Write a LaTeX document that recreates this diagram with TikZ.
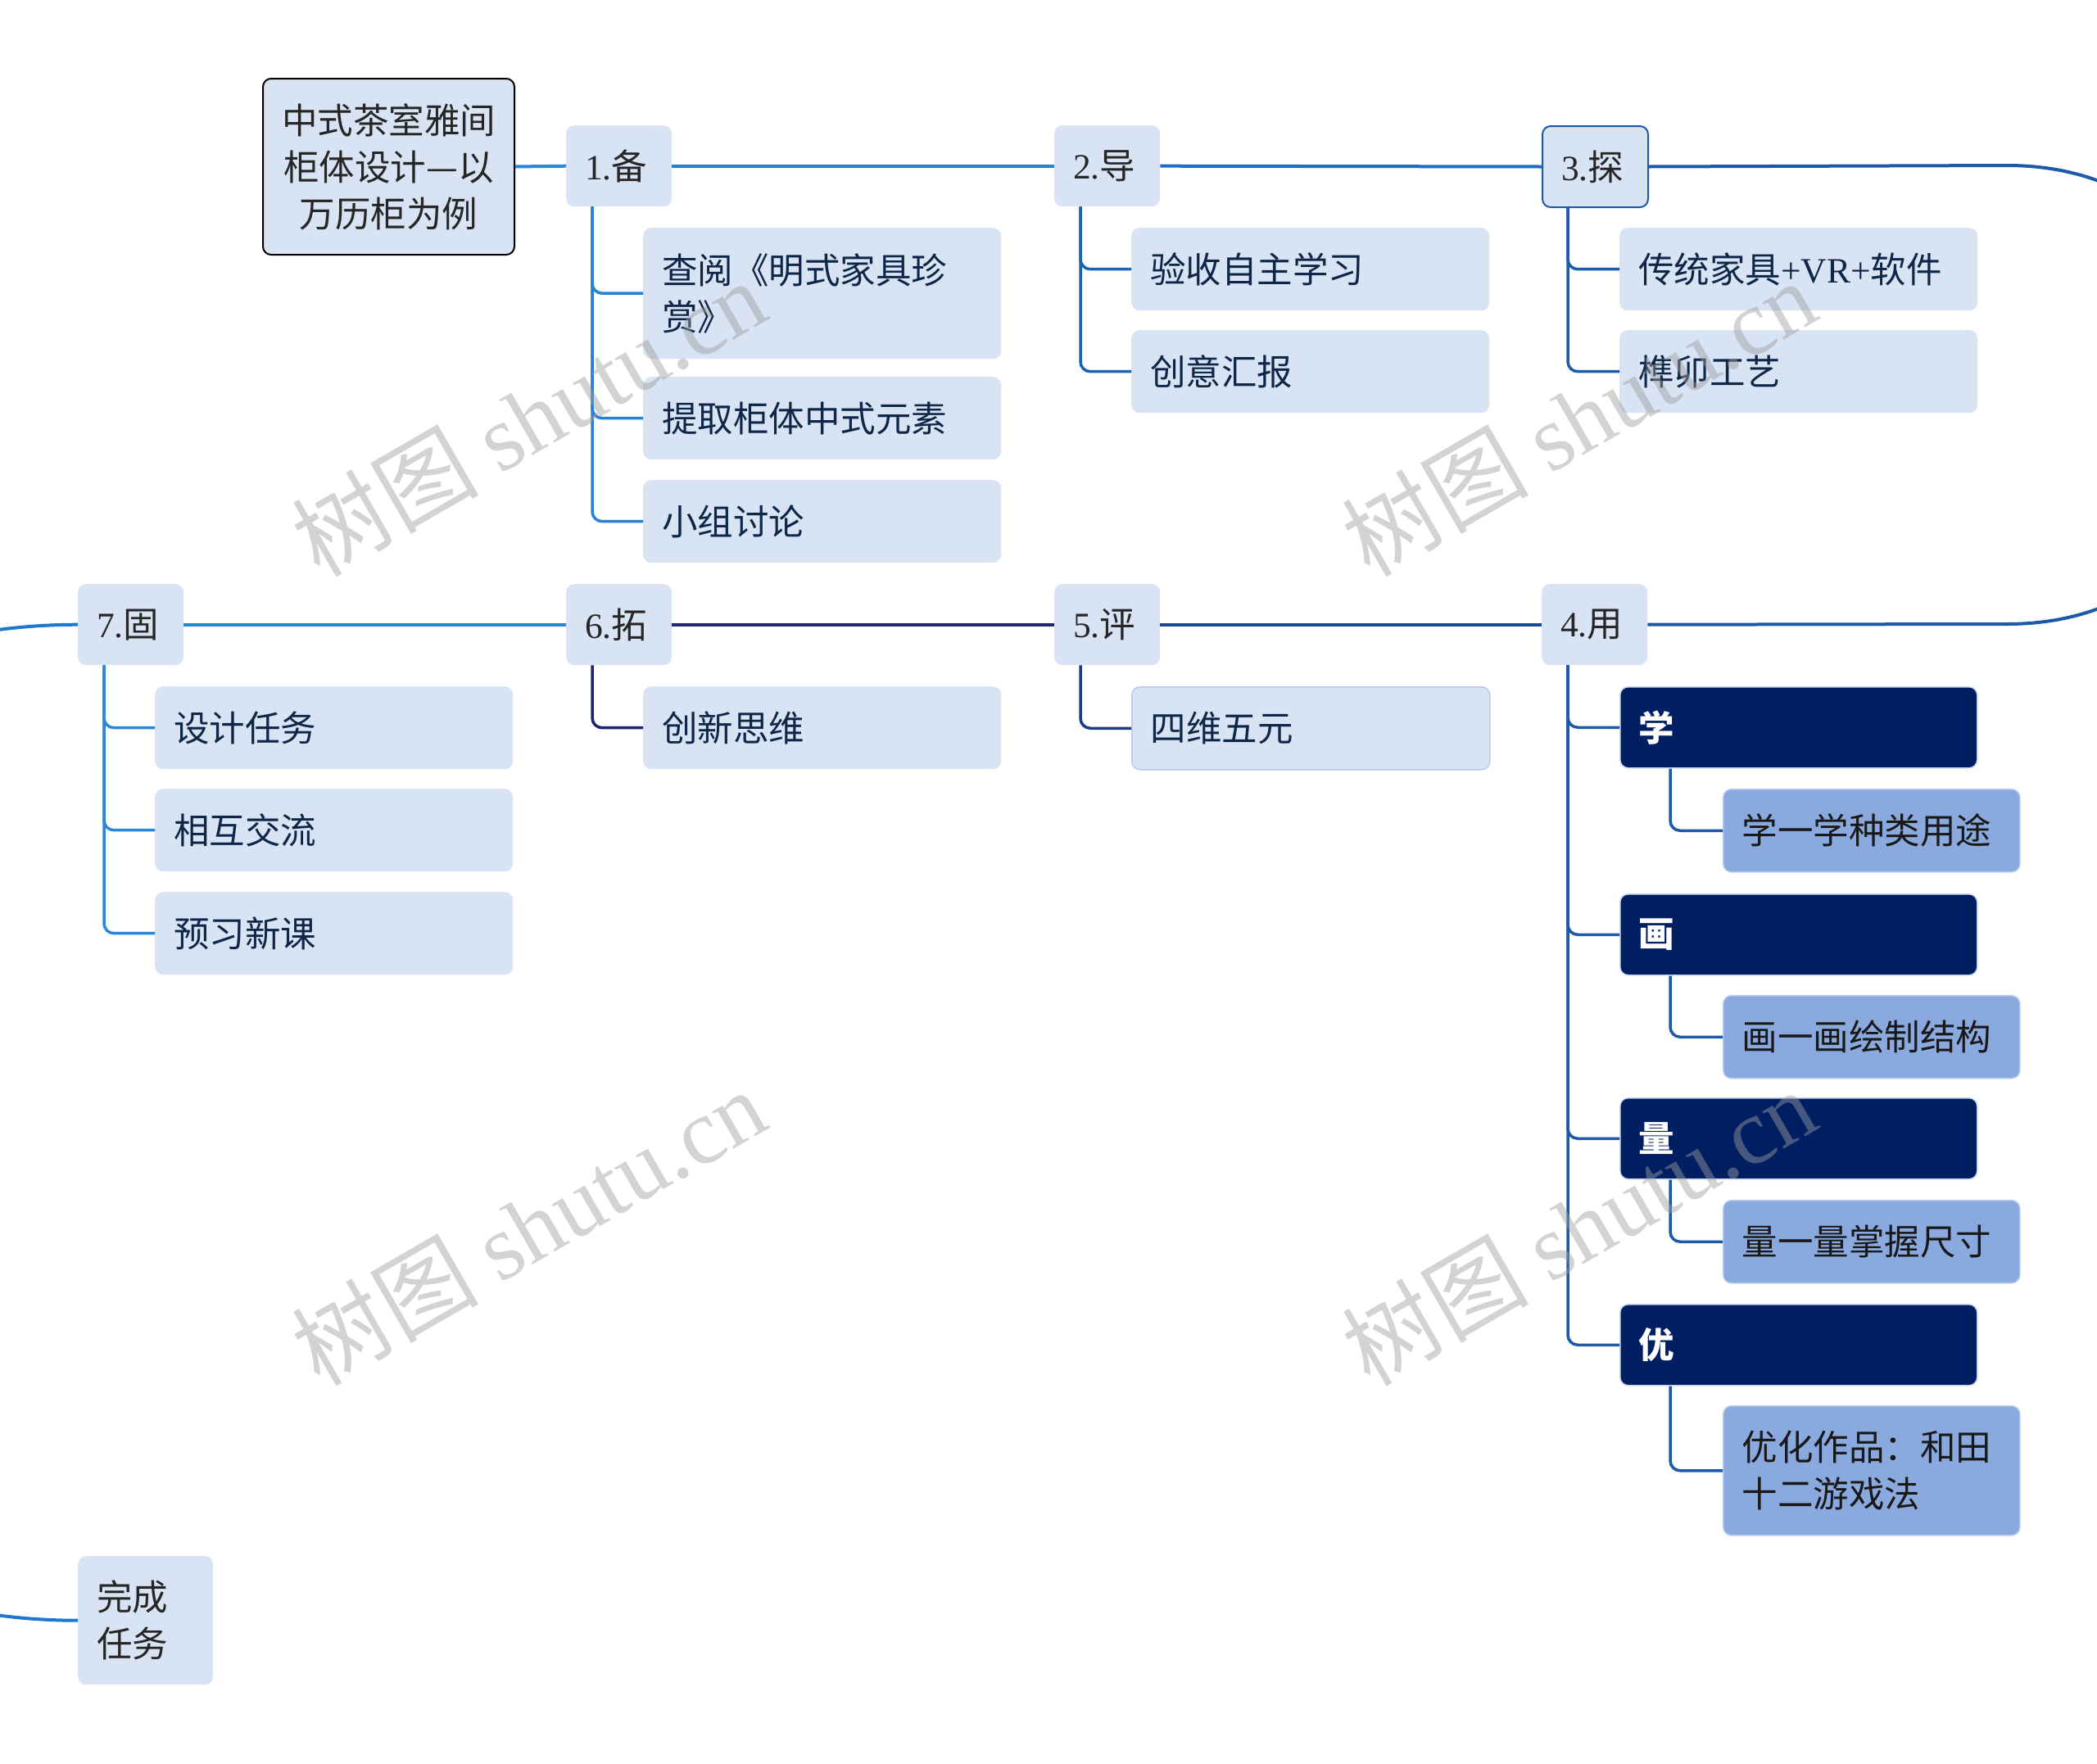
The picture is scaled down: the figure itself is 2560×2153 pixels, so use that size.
\documentclass[tikz,border=0pt]{standalone}
\usepackage{fontspec}
\setmainfont{Noto Sans CJK SC}
\newfontfamily\lat{Liberation Serif}
\usetikzlibrary{calc}

\definecolor{boxfill}{HTML}{D8E3F3}
\definecolor{stepink}{HTML}{262626}
\definecolor{leafink}{HTML}{0E2748}
\definecolor{navy}{HTML}{001E62}
\definecolor{navyedge}{HTML}{C8D7EE}
\definecolor{subfill}{HTML}{8AA9DE}
\definecolor{subedge}{HTML}{B5CAEC}
\definecolor{seledge}{HTML}{1C5AA8}
\definecolor{c1}{HTML}{2A80D2}
\definecolor{c2}{HTML}{1C62B4}
\definecolor{c3}{HTML}{1C5CAD}
\definecolor{c4}{HTML}{1C5AA8}
\definecolor{c5}{HTML}{1B3D88}
\definecolor{c6}{HTML}{1C2470}
\definecolor{c7}{HTML}{2A88DC}
\definecolor{m0}{HTML}{2F86D6}
\definecolor{m1}{HTML}{2A7FD0}
\definecolor{m2}{HTML}{1E6EC4}
\definecolor{m3}{HTML}{1C5AA8}
\definecolor{m4}{HTML}{1B4A96}
\definecolor{m5}{HTML}{1E2A6E}
\definecolor{m6}{HTML}{2B86D8}
\definecolor{m7}{HTML}{1F78CF}

\begin{document}
\begin{tikzpicture}[x=1pt,y=-1pt,
  every node/.style={font=\fontsize{43.5}{57}\selectfont, anchor=north west, rounded corners=10pt, inner ysep=0pt},
  stepbox/.style={fill=boxfill, text=stepink, minimum height=99pt, text width=83pt, inner xsep=23pt, align=left},
  leaf/.style={fill=boxfill, text=leafink, minimum height=101pt, text width=391pt, inner xsep=23pt, align=left},
  darkbox/.style={fill=navy, draw=navyedge, line width=1.5pt, text=white, font=\fontsize{43.5}{57}\selectfont\bfseries, minimum height=99pt, text width=390pt, inner xsep=23pt, align=left},
  subleaf/.style={fill=subfill, draw=subedge, line width=1.5pt, text=black!90, minimum height=101pt, text width=316pt, inner xsep=23pt, align=left},
  trunk/.style={line width=4pt},
  twig/.style={line width=3.5pt, rounded corners=12pt},
  wmark/.style={anchor=center, rotate=30, rounded corners=0pt, text=black!38, text opacity=.45, font=\fontsize{114}{114}\selectfont}
]
\useasboundingbox (0,0) rectangle (2560,2153);
\clip (0,0) rectangle (2560,2153);

% main topic
\node[fill=boxfill, draw=black, line width=2pt, text=stepink, minimum height=215pt, text width=281pt, inner xsep=13pt, align=center] (root) at (320,95) {中式茶室雅间\\柜体设计—以\\万历柜为例};

% seven steps
\node[stepbox] (b1) at (691,153) {{\lat 1.}备};
\node[stepbox] (b2) at (1287,153) {{\lat 2.}导};
\node[stepbox, draw=seledge, line width=2pt] (b3) at (1882,153) {{\lat 3.}探};
\node[stepbox] (b4) at (1882,713) {{\lat 4.}用};
\node[stepbox] (b5) at (1287,713) {{\lat 5.}评};
\node[stepbox] (b6) at (691,713) {{\lat 6.}拓};
\node[stepbox] (b7) at (95,713) {{\lat 7.}固};
\node[stepbox, minimum height=157pt, text width=119pt] (done) at (95,1900) {完成\\任务};

% leaves
\node[leaf, minimum height=160pt] (a1) at (785,278) {查阅《明式家具珍\\赏》};
\foreach \n/\x/\y/\t in {a2/785/460/提取柜体中式元素, a3/785/586/小组讨论,
    d1/1381/278/验收自主学习, d2/1381/403/创意汇报,
    e1/1977/278/{传统家具{\lat +VR+}软件}, e2/1977/403/榫卯工艺,
    g1/189/838/设计任务, g2/189/963/相互交流, g3/189/1089/预习新课,
    t1/785/838/创新思维}
  \node[leaf] (\n) at (\x,\y) {\t};
\node[leaf, draw=subedge, line width=1.5pt] (p1) at (1381,838) {四维五元};

% 4.用
\foreach \n/\y/\t in {u1/838/学, u2/1091/画, u3/1340/量, u4/1592/优}
  \node[darkbox] (\n) at (1977,\y) {\t};
\foreach \n/\y/\t in {v1/963/学一学种类用途, v2/1215/画一画绘制结构, v3/1465/量一量掌握尺寸}
  \node[subleaf] (\n) at (2103,\y) {\t};
\node[subleaf, minimum height=158pt] (v4) at (2103,1716) {优化作品：和田\\十二游戏法};

% trunk
\coordinate (rt) at (2450,202);
\coordinate (rb) at (2450,762);
\draw[trunk, m0] (root.east) -- (b1.west);
\draw[trunk, m1] (b1.east) -- (b2.west);
\draw[trunk, m2] (b2.east) -- (b3.west);
\draw[trunk, m3] (b3.east) -- (rt) .. controls +(380,0) and +(380,0) .. (rb) -- (b4.east);
\draw[trunk, m4] (b4.west) -- (b5.east);
\draw[trunk, m5] (b5.west) -- (b6.east);
\draw[trunk, m6] (b6.west) -- (b7.east);
\draw[trunk, m7] (b7.west) .. controls +(-800,0) and +(-800,0) .. (done.west);

% branches
\foreach \c in {a1,a2,a3} \draw[twig, c1] ($(b1.south west)+(32,0)$) |- (\c.west);
\foreach \c in {d1,d2} \draw[twig, c2] ($(b2.south west)+(32,0)$) |- (\c.west);
\foreach \c in {e1,e2} \draw[twig, c3] ($(b3.south west)+(32,0)$) |- (\c.west);
\foreach \c in {u1,u2,u3,u4} \draw[twig, c4] ($(b4.south west)+(32,0)$) |- (\c.west);
\foreach \c/\s in {u1/v1,u2/v2,u3/v3,u4/v4} \draw[twig, c4] ($(\c.south west)+(62,0)$) |- (\s.west);
\draw[twig, c5] ($(b5.south west)+(32,0)$) |- (p1.west);
\draw[twig, c6] ($(b6.south west)+(32,0)$) |- (t1.west);
\foreach \c in {g1,g2,g3} \draw[twig, c7] ($(b7.south west)+(32,0)$) |- (\c.west);

% watermarks
\foreach \x/\y in {645/510, 1927/510, 645/1498, 1927/1498}
  \node[wmark] (wm\x\y) at (\x,\y) {树图 {\lat shutu.cn}};
\end{tikzpicture}
\end{document}
